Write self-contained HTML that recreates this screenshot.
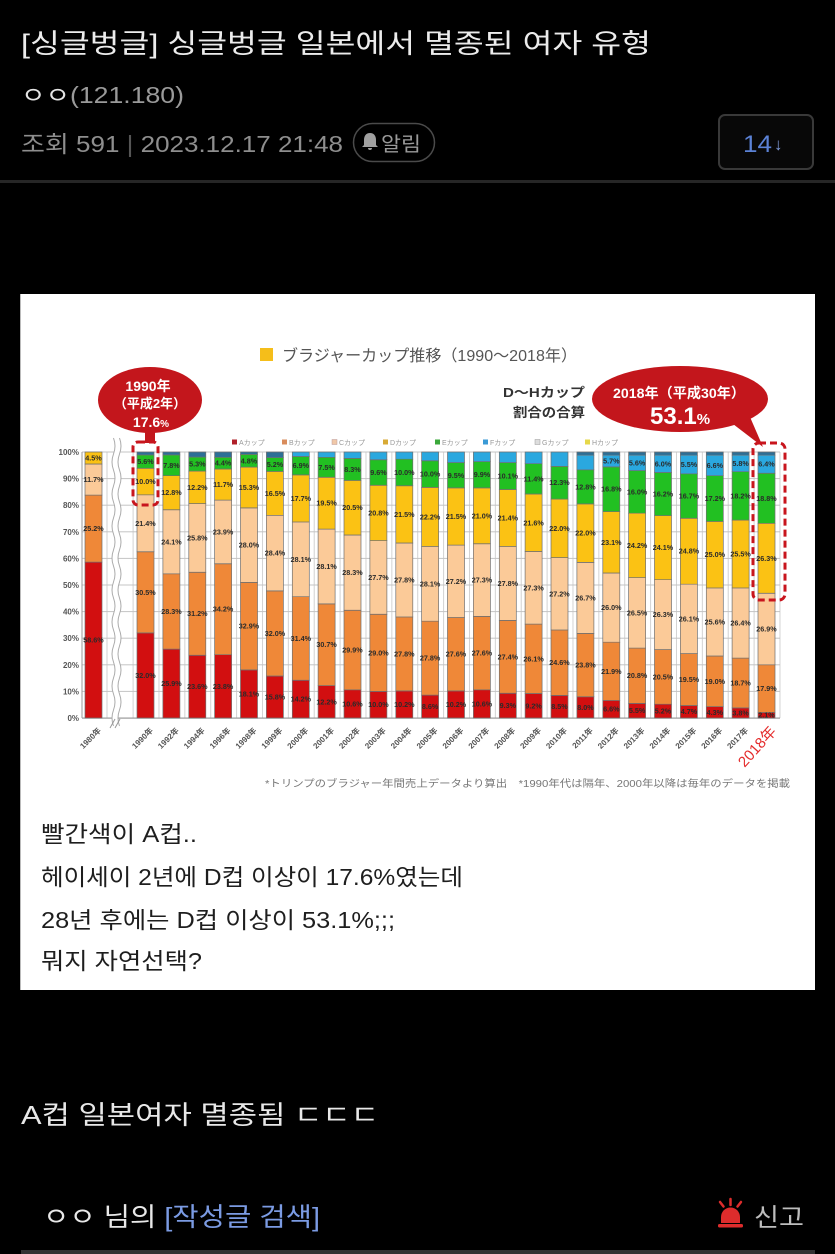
<!DOCTYPE html>
<html><head><meta charset="utf-8">
<style>
html,body{margin:0;padding:0;background:#000;width:835px;height:1254px;overflow:hidden}
svg{display:block}
.k{font-family:"Liberation Sans","Noto Sans CJK KR",sans-serif}
.j{font-family:"Liberation Sans","Noto Sans CJK JP",sans-serif}
.bars rect{stroke:#707070;stroke-width:.7px;vector-effect:non-scaling-stroke}
.a{fill:#d20f10}.b{fill:#ef8838}.c{fill:#fbca98}.d{fill:#fbc214}.e{fill:#22c022}.f{fill:#2aa8df}.g{fill:#2d6f96}
</style></head><body>
<svg width="835" height="1254" viewBox="0 0 835 1254" xmlns="http://www.w3.org/2000/svg">
<defs>
<pattern id="vg" patternUnits="userSpaceOnUse" x="132.6" y="0" width="25.875" height="1254"><rect width="1" height="1254" fill="#d2d2d2"/></pattern>
</defs>
<rect width="835" height="1254" fill="#000"/>

<!-- header -->
<text class="k" x="21" y="53" font-size="27" fill="#ececec" textLength="630" lengthAdjust="spacingAndGlyphs">[싱글벙글] 싱글벙글 일본에서 멸종된 여자 유형</text>
<text class="k" x="21" y="103" font-size="23" textLength="163" lengthAdjust="spacingAndGlyphs"><tspan fill="#e4e4e4">ㅇㅇ</tspan><tspan fill="#9a9a9a">(121.180)</tspan></text>
<text class="k" x="21" y="152" font-size="23" fill="#8e8e8e" textLength="322" lengthAdjust="spacingAndGlyphs">조회 591 <tspan fill="#555">|</tspan> 2023.12.17 21:48</text>
<rect x="353.5" y="123.5" width="81" height="38" rx="19" fill="none" stroke="#4a4a4a" stroke-width="1.5"/>
<path d="M370,133 c-4,0 -6,3 -6,7 v5 l-2,2 h16 l-2,-2 v-5 c0,-4 -2,-7 -6,-7z M368,148 h4 a2,2 0 0 1 -4,0z" fill="#a0a0a0"/>
<text class="k" x="381" y="151" font-size="20" fill="#9a9a9a" textLength="40" lengthAdjust="spacingAndGlyphs">알림</text>
<rect x="719" y="115" width="94" height="54" rx="6" fill="#080808" stroke="#393939" stroke-width="2"/>
<text class="k" x="743" y="152" font-size="24" fill="#5b82d6" textLength="29" lengthAdjust="spacingAndGlyphs">14</text>
<text class="k" x="774" y="150" font-size="17" fill="#7f9bd8">↓</text>
<rect x="0" y="180" width="835" height="3" fill="#262626"/>

<!-- panel -->
<rect x="20" y="294" width="795" height="696" fill="#fff"/>
<rect x="20" y="294" width="1" height="696" fill="#bbb"/>

<!-- chart title -->
<rect x="260" y="348" width="13" height="13" fill="#f5be1a"/>
<text class="j" x="282" y="361" font-size="16" fill="#555" textLength="295" lengthAdjust="spacingAndGlyphs">ブラジャーカップ推移（1990～2018年）</text>

<!-- left callout -->
<ellipse cx="150" cy="400" rx="52" ry="33" fill="#c3161c"/>
<rect x="145" y="428" width="10" height="15" fill="#c3161c"/>
<g class="j" fill="#fff" font-weight="bold" text-anchor="middle">
<text x="148" y="391" font-size="14">1990年</text>
<text x="150" y="408" font-size="13">（平成2年）</text>
<text x="151" y="427" font-size="14">17.6<tspan font-size="10">%</tspan></text>
</g>

<!-- D~H label -->
<text class="j" x="503" y="397" font-size="13" font-weight="bold" fill="#333" textLength="82" lengthAdjust="spacingAndGlyphs">D～Hカップ</text>
<text class="j" x="513" y="417" font-size="13" font-weight="bold" fill="#333" textLength="72" lengthAdjust="spacingAndGlyphs">割合の合算</text>

<!-- right callout -->
<polygon points="733,424 750,417 763,447" fill="#c3161c"/>
<ellipse cx="680" cy="399" rx="88" ry="33" fill="#c3161c"/>
<text class="j" x="613" y="398" font-size="14" font-weight="bold" fill="#fff" textLength="132" lengthAdjust="spacingAndGlyphs">2018年（平成30年）</text>
<text class="j" x="650" y="424" font-size="24" font-weight="bold" fill="#fff">53.1<tspan font-size="15">%</tspan></text>

<!-- legend -->
<g class="j" font-size="7" fill="#999">
<rect x="232" y="439.5" width="5" height="5" fill="#b0202a"/><text x="239" y="445">Aカップ</text>
<rect x="282" y="439.5" width="5" height="5" fill="#d98c5c"/><text x="289" y="445">Bカップ</text>
<rect x="332" y="439.5" width="5" height="5" fill="#f0c8a8" stroke="#b99" stroke-width=".5"/><text x="339" y="445">Cカップ</text>
<rect x="383" y="439.5" width="5" height="5" fill="#d8aa35"/><text x="390" y="445">Dカップ</text>
<rect x="435" y="439.5" width="5" height="5" fill="#3aa83a"/><text x="442" y="445">Eカップ</text>
<rect x="483" y="439.5" width="5" height="5" fill="#3a9ad6"/><text x="490" y="445">Fカップ</text>
<rect x="535" y="439.5" width="5" height="5" fill="#ddd" stroke="#999" stroke-width=".5"/><text x="542" y="445">Gカップ</text>
<rect x="585" y="439.5" width="5" height="5" fill="#e6d84a"/><text x="592" y="445">Hカップ</text>
</g>

<!-- grid -->
<rect x="132" y="452" width="649" height="266" fill="url(#vg)"/>
<rect x="106.5" y="452" width="1" height="266" fill="#d2d2d2"/>
<g fill="#c4c4c4">
<rect x="82" y="451.5" width="698" height="1"/>
<rect x="82" y="478.1" width="698" height="1"/>
<rect x="82" y="504.7" width="698" height="1"/>
<rect x="82" y="531.3" width="698" height="1"/>
<rect x="82" y="557.9" width="698" height="1"/>
<rect x="82" y="584.5" width="698" height="1"/>
<rect x="82" y="611.1" width="698" height="1"/>
<rect x="82" y="637.7" width="698" height="1"/>
<rect x="82" y="664.3" width="698" height="1"/>
<rect x="82" y="690.9" width="698" height="1"/>
<rect x="82" y="717.5" width="698" height="1.2" fill="#999"/>
</g>
<rect x="81.5" y="452" width="1" height="266" fill="#999"/>

<!-- wavy break -->
<path d="M116.5,438 q3,8 0,16 t0,16 t0,16 t0,16 t0,16 t0,16 t0,16 t0,16 t0,16 t0,16 t0,16 t0,16 t0,16 t0,16 t0,16 t0,16 t0,16 t0,16" fill="none" stroke="#fff" stroke-width="6"/>
<path d="M113.5,438 q3,8 0,16 t0,16 t0,16 t0,16 t0,16 t0,16 t0,16 t0,16 t0,16 t0,16 t0,16 t0,16 t0,16 t0,16 t0,16 t0,16 t0,16 t0,16" fill="none" stroke="#aaa" stroke-width="1"/>
<path d="M119.5,438 q3,8 0,16 t0,16 t0,16 t0,16 t0,16 t0,16 t0,16 t0,16 t0,16 t0,16 t0,16 t0,16 t0,16 t0,16 t0,16 t0,16 t0,16 t0,16" fill="none" stroke="#aaa" stroke-width="1"/>

<!-- y labels -->
<g font-family="Liberation Sans, sans-serif" font-size="8" font-weight="bold" fill="#555" text-anchor="end">
<text x="79" y="455">100%</text><text x="79" y="481.6">90%</text><text x="79" y="508.2">80%</text><text x="79" y="534.8">70%</text><text x="79" y="561.4">60%</text><text x="79" y="588">50%</text><text x="79" y="614.6">40%</text><text x="79" y="641.2">30%</text><text x="79" y="667.8">20%</text><text x="79" y="694.4">10%</text><text x="79" y="721">0%</text>
</g>

<!-- bars -->
<g class="bars">
<g transform="translate(85,718) scale(1,-2.66)"><rect class="a" width="17" y="0" height="58.6"/><rect class="b" width="17" y="58.6" height="25.2"/><rect class="c" width="17" y="83.8" height="11.7"/><rect class="d" width="17" y="95.5" height="4.5"/></g>
<g transform="translate(137,718) scale(1,-2.66)"><rect class="a" width="17" y="0" height="32"/><rect class="b" width="17" y="32" height="30.5"/><rect class="c" width="17" y="62.5" height="21.4"/><rect class="d" width="17" y="83.9" height="10"/><rect class="e" width="17" y="93.9" height="5"/><rect class="g" width="17" y="98.9" height="1.1"/></g>
<g transform="translate(162.9,718) scale(1,-2.66)"><rect class="a" width="17" y="0" height="25.9"/><rect class="b" width="17" y="25.9" height="28.3"/><rect class="c" width="17" y="54.2" height="24.1"/><rect class="d" width="17" y="78.3" height="12.8"/><rect class="e" width="17" y="91.1" height="7.8"/><rect class="g" width="17" y="98.9" height="1.1"/></g>
<g transform="translate(188.8,718) scale(1,-2.66)"><rect class="a" width="17" y="0" height="23.6"/><rect class="b" width="17" y="23.6" height="31.2"/><rect class="c" width="17" y="54.8" height="25.8"/><rect class="d" width="17" y="80.6" height="12.2"/><rect class="e" width="17" y="92.8" height="5.3"/><rect class="g" width="17" y="98.1" height="1.9"/></g>
<g transform="translate(214.6,718) scale(1,-2.66)"><rect class="a" width="17" y="0" height="23.8"/><rect class="b" width="17" y="23.8" height="34.2"/><rect class="c" width="17" y="58" height="23.9"/><rect class="d" width="17" y="81.9" height="11.7"/><rect class="e" width="17" y="93.6" height="4.4"/><rect class="g" width="17" y="98" height="2"/></g>
<g transform="translate(240.5,718) scale(1,-2.66)"><rect class="a" width="17" y="0" height="18.1"/><rect class="b" width="17" y="18.1" height="32.9"/><rect class="c" width="17" y="51" height="28"/><rect class="d" width="17" y="79" height="15.3"/><rect class="e" width="17" y="94.3" height="4.8"/><rect class="g" width="17" y="99.1" height="0.9"/></g>
<g transform="translate(266.4,718) scale(1,-2.66)"><rect class="a" width="17" y="0" height="15.8"/><rect class="b" width="17" y="15.8" height="32"/><rect class="c" width="17" y="47.8" height="28.4"/><rect class="d" width="17" y="76.2" height="16.5"/><rect class="e" width="17" y="92.7" height="5.2"/><rect class="g" width="17" y="97.9" height="2.1"/></g>
<g transform="translate(292.3,718) scale(1,-2.66)"><rect class="a" width="17" y="0" height="14.2"/><rect class="b" width="17" y="14.2" height="31.4"/><rect class="c" width="17" y="45.6" height="28.1"/><rect class="d" width="17" y="73.7" height="17.7"/><rect class="e" width="17" y="91.4" height="6.9"/><rect class="f" width="17" y="98.3" height="1.7"/></g>
<g transform="translate(318.1,718) scale(1,-2.66)"><rect class="a" width="17" y="0" height="12.2"/><rect class="b" width="17" y="12.2" height="30.7"/><rect class="c" width="17" y="42.9" height="28.1"/><rect class="d" width="17" y="71" height="19.5"/><rect class="e" width="17" y="90.5" height="7.5"/><rect class="f" width="17" y="98" height="2"/></g>
<g transform="translate(344,718) scale(1,-2.66)"><rect class="a" width="17" y="0" height="10.6"/><rect class="b" width="17" y="10.6" height="29.9"/><rect class="c" width="17" y="40.5" height="28.3"/><rect class="d" width="17" y="68.8" height="20.5"/><rect class="e" width="17" y="89.3" height="8.3"/><rect class="f" width="17" y="97.6" height="2.4"/></g>
<g transform="translate(369.9,718) scale(1,-2.66)"><rect class="a" width="17" y="0" height="10"/><rect class="b" width="17" y="10" height="29"/><rect class="c" width="17" y="39" height="27.7"/><rect class="d" width="17" y="66.7" height="20.8"/><rect class="e" width="17" y="87.5" height="9.6"/><rect class="f" width="17" y="97.1" height="2.9"/></g>
<g transform="translate(395.8,718) scale(1,-2.66)"><rect class="a" width="17" y="0" height="10.2"/><rect class="b" width="17" y="10.2" height="27.8"/><rect class="c" width="17" y="38" height="27.8"/><rect class="d" width="17" y="65.8" height="21.5"/><rect class="e" width="17" y="87.3" height="10"/><rect class="f" width="17" y="97.3" height="2.7"/></g>
<g transform="translate(421.6,718) scale(1,-2.66)"><rect class="a" width="17" y="0" height="8.6"/><rect class="b" width="17" y="8.6" height="27.8"/><rect class="c" width="17" y="36.4" height="28.1"/><rect class="d" width="17" y="64.5" height="22.2"/><rect class="e" width="17" y="86.7" height="10"/><rect class="f" width="17" y="96.7" height="3.3"/></g>
<g transform="translate(447.5,718) scale(1,-2.66)"><rect class="a" width="17" y="0" height="10.2"/><rect class="b" width="17" y="10.2" height="27.6"/><rect class="c" width="17" y="37.8" height="27.2"/><rect class="d" width="17" y="65" height="21.5"/><rect class="e" width="17" y="86.5" height="9.5"/><rect class="f" width="17" y="96" height="4"/></g>
<g transform="translate(473.4,718) scale(1,-2.66)"><rect class="a" width="17" y="0" height="10.6"/><rect class="b" width="17" y="10.6" height="27.6"/><rect class="c" width="17" y="38.2" height="27.3"/><rect class="d" width="17" y="65.5" height="21"/><rect class="e" width="17" y="86.5" height="9.9"/><rect class="f" width="17" y="96.4" height="3.6"/></g>
<g transform="translate(499.3,718) scale(1,-2.66)"><rect class="a" width="17" y="0" height="9.3"/><rect class="b" width="17" y="9.3" height="27.4"/><rect class="c" width="17" y="36.7" height="27.8"/><rect class="d" width="17" y="64.5" height="21.4"/><rect class="e" width="17" y="85.9" height="10.1"/><rect class="f" width="17" y="96" height="4"/></g>
<g transform="translate(525.1,718) scale(1,-2.66)"><rect class="a" width="17" y="0" height="9.2"/><rect class="b" width="17" y="9.2" height="26.1"/><rect class="c" width="17" y="35.3" height="27.3"/><rect class="d" width="17" y="62.6" height="21.6"/><rect class="e" width="17" y="84.2" height="11.4"/><rect class="f" width="17" y="95.6" height="4.4"/></g>
<g transform="translate(551,718) scale(1,-2.66)"><rect class="a" width="17" y="0" height="8.5"/><rect class="b" width="17" y="8.5" height="24.6"/><rect class="c" width="17" y="33.1" height="27.2"/><rect class="d" width="17" y="60.3" height="22"/><rect class="e" width="17" y="82.3" height="12.3"/><rect class="f" width="17" y="94.6" height="5.4"/></g>
<g transform="translate(576.9,718) scale(1,-2.66)"><rect class="a" width="17" y="0" height="8"/><rect class="b" width="17" y="8" height="23.8"/><rect class="c" width="17" y="31.8" height="26.7"/><rect class="d" width="17" y="58.5" height="22"/><rect class="e" width="17" y="80.5" height="12.8"/><rect class="f" width="17" y="93.3" height="5.5"/><rect class="g" width="17" y="98.8" height="1.2"/></g>
<g transform="translate(602.8,718) scale(1,-2.66)"><rect class="a" width="17" y="0" height="6.6"/><rect class="b" width="17" y="6.6" height="21.9"/><rect class="c" width="17" y="28.5" height="26"/><rect class="d" width="17" y="54.5" height="23.1"/><rect class="e" width="17" y="77.6" height="16.8"/><rect class="f" width="17" y="94.4" height="4.4"/><rect class="g" width="17" y="98.8" height="1.2"/></g>
<g transform="translate(628.6,718) scale(1,-2.66)"><rect class="a" width="17" y="0" height="5.5"/><rect class="b" width="17" y="5.5" height="20.8"/><rect class="c" width="17" y="26.3" height="26.5"/><rect class="d" width="17" y="52.8" height="24.2"/><rect class="e" width="17" y="77" height="16"/><rect class="f" width="17" y="93" height="5.8"/><rect class="g" width="17" y="98.8" height="1.2"/></g>
<g transform="translate(654.5,718) scale(1,-2.66)"><rect class="a" width="17" y="0" height="5.2"/><rect class="b" width="17" y="5.2" height="20.5"/><rect class="c" width="17" y="25.7" height="26.3"/><rect class="d" width="17" y="52" height="24.1"/><rect class="e" width="17" y="76.1" height="16.2"/><rect class="f" width="17" y="92.3" height="6.5"/><rect class="g" width="17" y="98.8" height="1.2"/></g>
<g transform="translate(680.4,718) scale(1,-2.66)"><rect class="a" width="17" y="0" height="4.7"/><rect class="b" width="17" y="4.7" height="19.5"/><rect class="c" width="17" y="24.2" height="26.1"/><rect class="d" width="17" y="50.3" height="24.8"/><rect class="e" width="17" y="75.1" height="16.7"/><rect class="f" width="17" y="91.8" height="7"/><rect class="g" width="17" y="98.8" height="1.2"/></g>
<g transform="translate(706.3,718) scale(1,-2.66)"><rect class="a" width="17" y="0" height="4.3"/><rect class="b" width="17" y="4.3" height="19"/><rect class="c" width="17" y="23.3" height="25.6"/><rect class="d" width="17" y="48.9" height="25"/><rect class="e" width="17" y="73.9" height="17.2"/><rect class="f" width="17" y="91.1" height="7.7"/><rect class="g" width="17" y="98.8" height="1.2"/></g>
<g transform="translate(732.1,718) scale(1,-2.66)"><rect class="a" width="17" y="0" height="3.8"/><rect class="b" width="17" y="3.8" height="18.7"/><rect class="c" width="17" y="22.5" height="26.4"/><rect class="d" width="17" y="48.9" height="25.5"/><rect class="e" width="17" y="74.4" height="18.2"/><rect class="f" width="17" y="92.6" height="6.2"/><rect class="g" width="17" y="98.8" height="1.2"/></g>
<g transform="translate(758,718) scale(1,-2.66)"><rect class="a" width="17" y="0" height="2.1"/><rect class="b" width="17" y="2.1" height="17.9"/><rect class="c" width="17" y="20" height="26.9"/><rect class="d" width="17" y="46.9" height="26.3"/><rect class="e" width="17" y="73.2" height="18.8"/><rect class="f" width="17" y="92" height="6.8"/><rect class="g" width="17" y="98.8" height="1.2"/></g>
</g>

<!-- value labels -->
<g font-family="Liberation Sans, sans-serif" font-size="7.2" font-weight="bold" fill="#2a2a2a" text-anchor="middle">
<text x="93.5" y="642.6">58.6%</text><text x="93.5" y="531.1">25.2%</text><text x="93.5" y="482">11.7%</text><text x="93.5" y="460.5">4.5%</text>
<text x="145.5" y="677.9">32.0%</text><text x="145.5" y="594.8">30.5%</text><text x="145.5" y="525.8">21.4%</text><text x="145.5" y="484">10.0%</text><text x="145.5" y="464.1">5.6%</text>
<text x="171.4" y="686.1">25.9%</text><text x="171.4" y="614">28.3%</text><text x="171.4" y="544.3">24.1%</text><text x="171.4" y="495.2">12.8%</text><text x="171.4" y="467.8">7.8%</text>
<text x="197.3" y="689.1">23.6%</text><text x="197.3" y="616.2">31.2%</text><text x="197.3" y="540.4">25.8%</text><text x="197.3" y="489.9">12.2%</text><text x="197.3" y="466.6">5.3%</text>
<text x="223.1" y="688.9">23.8%</text><text x="223.1" y="611.7">34.2%</text><text x="223.1" y="534.4">23.9%</text><text x="223.1" y="487.1">11.7%</text><text x="223.1" y="465.7">4.4%</text>
<text x="249" y="696.4">18.1%</text><text x="249" y="628.6">32.9%</text><text x="249" y="547.6">28.0%</text><text x="249" y="490">15.3%</text><text x="249" y="463.3">4.8%</text>
<text x="274.9" y="699.5">15.8%</text><text x="274.9" y="635.9">32.0%</text><text x="274.9" y="555.6">28.4%</text><text x="274.9" y="495.9">16.5%</text><text x="274.9" y="467">5.2%</text>
<text x="300.8" y="701.6">14.2%</text><text x="300.8" y="641">31.4%</text><text x="300.8" y="561.8">28.1%</text><text x="300.8" y="500.9">17.7%</text><text x="300.8" y="468.2">6.9%</text>
<text x="326.6" y="704.3">12.2%</text><text x="326.6" y="647.2">30.7%</text><text x="326.6" y="569">28.1%</text><text x="326.6" y="505.7">19.5%</text><text x="326.6" y="469.8">7.5%</text>
<text x="352.5" y="706.4">10.6%</text><text x="352.5" y="652.5">29.9%</text><text x="352.5" y="575.1">28.3%</text><text x="352.5" y="510.2">20.5%</text><text x="352.5" y="471.9">8.3%</text>
<text x="378.4" y="707.2">10.0%</text><text x="378.4" y="655.3">29.0%</text><text x="378.4" y="579.9">27.7%</text><text x="378.4" y="515.4">20.8%</text><text x="378.4" y="475">9.6%</text>
<text x="404.3" y="706.9">10.2%</text><text x="404.3" y="656.4">27.8%</text><text x="404.3" y="582.4">27.8%</text><text x="404.3" y="516.9">21.5%</text><text x="404.3" y="475">10.0%</text>
<text x="430.1" y="709.1">8.6%</text><text x="430.1" y="660.7">27.8%</text><text x="430.1" y="586.3">28.1%</text><text x="430.1" y="519.4">22.2%</text><text x="430.1" y="476.6">10.0%</text>
<text x="456" y="706.9">10.2%</text><text x="456" y="656.7">27.6%</text><text x="456" y="583.8">27.2%</text><text x="456" y="519">21.5%</text><text x="456" y="477.8">9.5%</text>
<text x="481.9" y="706.4">10.6%</text><text x="481.9" y="655.6">27.6%</text><text x="481.9" y="582.6">27.3%</text><text x="481.9" y="518.3">21.0%</text><text x="481.9" y="477.2">9.9%</text>
<text x="507.8" y="708.1">9.3%</text><text x="507.8" y="659.3">27.4%</text><text x="507.8" y="585.9">27.8%</text><text x="507.8" y="520.5">21.4%</text><text x="507.8" y="478.6">10.1%</text>
<text x="533.6" y="708.3">9.2%</text><text x="533.6" y="661.3">26.1%</text><text x="533.6" y="590.3">27.3%</text><text x="533.6" y="525.3">21.6%</text><text x="533.6" y="481.4">11.4%</text>
<text x="559.5" y="709.2">8.5%</text><text x="559.5" y="665.2">24.6%</text><text x="559.5" y="596.3">27.2%</text><text x="559.5" y="530.8">22.0%</text><text x="559.5" y="485.2">12.3%</text>
<text x="585.4" y="709.9">8.0%</text><text x="585.4" y="667.6">23.8%</text><text x="585.4" y="600.4">26.7%</text><text x="585.4" y="535.6">22.0%</text><text x="585.4" y="489.3">12.8%</text>
<text x="611.3" y="711.7">6.6%</text><text x="611.3" y="673.8">21.9%</text><text x="611.3" y="610.1">26.0%</text><text x="611.3" y="544.8">23.1%</text><text x="611.3" y="491.7">16.8%</text><text x="611.3" y="463.5">5.7%</text>
<text x="637.1" y="713.2">5.5%</text><text x="637.1" y="678.2">20.8%</text><text x="637.1" y="615.3">26.5%</text><text x="637.1" y="547.9">24.2%</text><text x="637.1" y="494.4">16.0%</text><text x="637.1" y="465.4">5.6%</text>
<text x="663" y="713.6">5.2%</text><text x="663" y="679.4">20.5%</text><text x="663" y="617.2">26.3%</text><text x="663" y="550.1">24.1%</text><text x="663" y="496.5">16.2%</text><text x="663" y="466.3">6.0%</text>
<text x="688.9" y="714.2">4.7%</text><text x="688.9" y="682.1">19.5%</text><text x="688.9" y="621.4">26.1%</text><text x="688.9" y="553.7">24.8%</text><text x="688.9" y="498.5">16.7%</text><text x="688.9" y="467">5.5%</text>
<text x="714.8" y="714.8">4.3%</text><text x="714.8" y="683.8">19.0%</text><text x="714.8" y="624.5">25.6%</text><text x="714.8" y="557.2">25.0%</text><text x="714.8" y="501.1">17.2%</text><text x="714.8" y="467.9">6.6%</text>
<text x="740.6" y="715.4">3.8%</text><text x="740.6" y="685.5">18.7%</text><text x="740.6" y="625.5">26.4%</text><text x="740.6" y="556.5">25.5%</text><text x="740.6" y="498.4">18.2%</text><text x="740.6" y="465.9">5.8%</text>
<text x="766.5" y="717.7">2.1%</text><text x="766.5" y="691.2">17.9%</text><text x="766.5" y="631.5">26.9%</text><text x="766.5" y="560.8">26.3%</text><text x="766.5" y="500.8">18.8%</text><text x="766.5" y="466.7">6.4%</text>
</g>

<!-- dashed highlight boxes -->
<rect x="133" y="442" width="25" height="63" rx="5" fill="none" stroke="#c8151d" stroke-width="3" stroke-dasharray="7 4"/>
<rect x="753" y="443" width="32" height="157" rx="6" fill="none" stroke="#c8151d" stroke-width="3" stroke-dasharray="7 4"/>

<!-- small break marks at axis -->
<path d="M110,728 l5,-9 M115,728 l5,-9" stroke="#999" stroke-width="1"/>

<!-- x labels -->
<g class="j" font-size="8" font-weight="bold" fill="#555" text-anchor="end">
<text transform="translate(101.5,731) rotate(-45)">1980年</text>
<text transform="translate(153.5,731) rotate(-45)">1990年</text>
<text transform="translate(179.4,731) rotate(-45)">1992年</text>
<text transform="translate(205.3,731) rotate(-45)">1994年</text>
<text transform="translate(231.1,731) rotate(-45)">1996年</text>
<text transform="translate(257,731) rotate(-45)">1998年</text>
<text transform="translate(282.9,731) rotate(-45)">1999年</text>
<text transform="translate(308.8,731) rotate(-45)">2000年</text>
<text transform="translate(334.6,731) rotate(-45)">2001年</text>
<text transform="translate(360.5,731) rotate(-45)">2002年</text>
<text transform="translate(386.4,731) rotate(-45)">2003年</text>
<text transform="translate(412.3,731) rotate(-45)">2004年</text>
<text transform="translate(438.1,731) rotate(-45)">2005年</text>
<text transform="translate(464,731) rotate(-45)">2006年</text>
<text transform="translate(489.9,731) rotate(-45)">2007年</text>
<text transform="translate(515.8,731) rotate(-45)">2008年</text>
<text transform="translate(541.6,731) rotate(-45)">2009年</text>
<text transform="translate(567.5,731) rotate(-45)">2010年</text>
<text transform="translate(593.4,731) rotate(-45)">2011年</text>
<text transform="translate(619.3,731) rotate(-45)">2012年</text>
<text transform="translate(645.1,731) rotate(-45)">2013年</text>
<text transform="translate(671,731) rotate(-45)">2014年</text>
<text transform="translate(696.9,731) rotate(-45)">2015年</text>
<text transform="translate(722.8,731) rotate(-45)">2016年</text>
<text transform="translate(748.6,731) rotate(-45)">2017年</text>
<text transform="translate(777,732) rotate(-48)" font-size="15" font-weight="normal" fill="#e42a2a">2018年</text>
</g>

<!-- footnote -->
<text class="j" x="265" y="787" font-size="10" fill="#777" textLength="525" lengthAdjust="spacingAndGlyphs">*トリンプのブラジャー年間売上データより算出　*1990年代は隔年、2000年以降は毎年のデータを掲載</text>

<!-- panel korean text -->
<g class="k" font-size="23" fill="#1e1e1e">
<text x="41" y="842" textLength="156" lengthAdjust="spacingAndGlyphs">빨간색이 A컵..</text>
<text x="41" y="885" textLength="422" lengthAdjust="spacingAndGlyphs">헤이세이 2년에 D컵 이상이 17.6%였는데</text>
<text x="41" y="928" textLength="354" lengthAdjust="spacingAndGlyphs">28년 후에는 D컵 이상이 53.1%;;;</text>
<text x="41" y="969" textLength="161" lengthAdjust="spacingAndGlyphs">뭐지 자연선택?</text>
</g>

<!-- body after image -->
<text class="k" x="21" y="1124" font-size="26" fill="#e8e8e8" textLength="358" lengthAdjust="spacingAndGlyphs">A컵 일본여자 멸종됨 ㄷㄷㄷ</text>

<text class="k" x="43" y="1226" font-size="26" textLength="277" lengthAdjust="spacingAndGlyphs"><tspan fill="#e8e8e8">ㅇㅇ 님의 </tspan><tspan fill="#7b9be3">[작성글 검색]</tspan></text>

<!-- siren -->
<g stroke="#dd2c2c" stroke-width="2.5" stroke-linecap="round">
<line x1="730.5" y1="1199" x2="730.5" y2="1205"/>
<line x1="720" y1="1202" x2="723.5" y2="1206.5"/>
<line x1="741" y1="1202" x2="737.5" y2="1206.5"/>
</g>
<path d="M721,1223 v-6 a9.5,9.5 0 0 1 19,0 v6z" fill="#dd2c2c"/>
<rect x="718" y="1224" width="25" height="3.5" rx="1.5" fill="#dd2c2c"/>
<text class="k" x="754" y="1226" font-size="25" fill="#bdbdbd" textLength="50" lengthAdjust="spacingAndGlyphs">신고</text>

<rect x="21" y="1250" width="794" height="4" fill="#333"/>
</svg>
</body></html>
